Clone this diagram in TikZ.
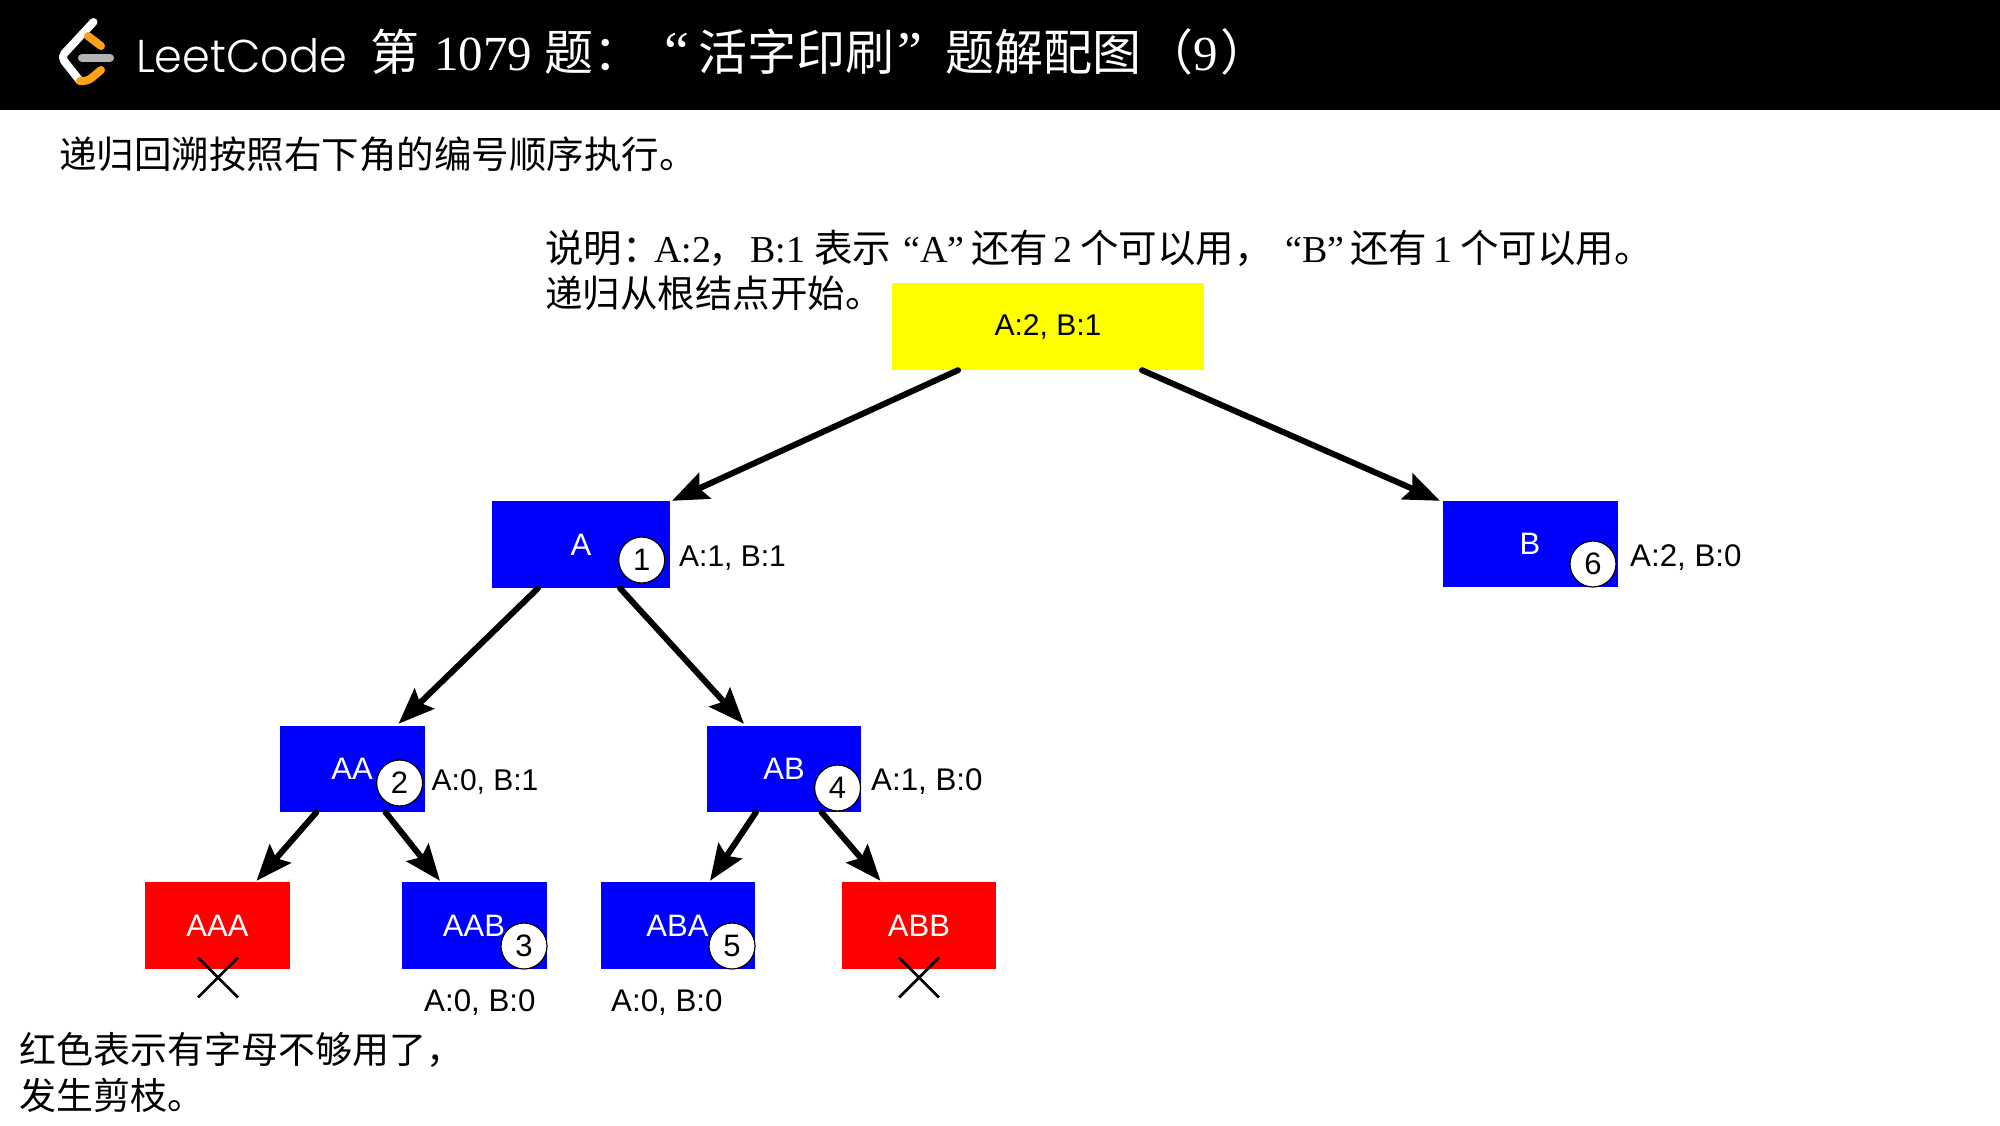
\documentclass[tikz,border=0pt]{standalone}
\usepackage{fontspec}
\usetikzlibrary{arrows.meta,shapes.misc}
\setmainfont{Liberation Serif}
\newfontfamily\cjkf{Noto Sans CJK SC}
\newfontfamily\helv{Liberation Sans}
\newfontfamily\lcfont[UprightFont={* Light},FakeStretch=0.97]{Poppins}
\definecolor{yel}{RGB}{255,255,0}
\definecolor{lcorange}{RGB}{255,161,22}
\definecolor{lcgrey}{RGB}{179,179,179}
\newcommand{\cj}[1]{{\cjkf #1}}
\newcommand{\cjb}[1]{{\cjkf\fontsize{38.5}{38.5}\selectfont #1}}
\newcommand{\cjt}[1]{{\cjkf\fontsize{49}{49}\selectfont #1}}
\newcommand{\qt}[1]{{\fontsize{56}{56}\selectfont #1}}
\newcommand{\putrun}[2]{\makebox[0pt][l]{\hspace*{#1pt}#2}}
\tikzset{
  x=1pt,y=-1pt,
  box/.style={rectangle,inner sep=0pt,text=white,font=\helv\fontsize{31}{31}\selectfont,anchor=center},
  bluebox/.style={box,fill=blue},
  redbox/.style={box,fill=red},
  num/.style={circle,draw=black,fill=white,line width=1.2pt,minimum size=46pt,inner sep=0pt,font=\helv\fontsize{31}{31}\selectfont},
  cnt/.style={anchor=base west,inner sep=0pt,font=\helv\fontsize{30}{30}\selectfont},
  cntw/.style={anchor=base west,inner sep=0pt,font=\helv\fontsize{31.3}{31.3}\selectfont},
  note/.style={anchor=base west,inner sep=0pt,font=\fontsize{37.5}{37.5}\selectfont},
  noteb/.style={anchor=base west,inner sep=0pt,font=\fontsize{38}{38}\selectfont},
  title/.style={anchor=base west,inner sep=0pt,text=white,font=\fontsize{49}{49}\selectfont},
  link/.style={draw=black,line width=6pt,line cap=round,-{Stealth[length=36pt,width=28pt,inset=6pt]}},
  xmark/.style={cross out,draw=black,line width=2.8pt,minimum width=37pt,minimum height=37pt,inner sep=0pt},
}
\begin{document}
\begin{tikzpicture}
\useasboundingbox (0,0) rectangle (2000,1125);
\fill[white] (0,0) rectangle (2000,1125);
\fill[black] (0,0) rectangle (2000,110);
% logo
\draw[line width=8pt,line cap=round,line join=round,draw=white,rounded corners=5pt] (93.5,22) -- (61,57) -- (80,81);
\draw[line width=8pt,line cap=round,draw=lcorange,rounded corners=4pt] (88,36) -- (101,46);
\draw[line width=8pt,line cap=round,draw=lcorange,rounded corners=5pt] (101,70) -- (88,81) -- (80,81);
\draw[line width=8pt,line cap=round,draw=lcgrey] (82,58) -- (110,58);
\node[anchor=base west,inner sep=0pt,text=white,font=\lcfont\fontsize{46}{46}\selectfont] (lc) at (136,72) {LeetCode};
\node[title] (ttl) at (370,70) {\makebox[240pt][l]{\putrun{0}{\cjt{第}}\putrun{64}{1079}\putrun{174}{\cjt{题：}}}};
\node[title] (ttl2) at (664,70) {\makebox[580pt][l]{\putrun{0}{\qt{“}}\putrun{34}{\cjt{活字印刷}}\putrun{233}{\qt{”}}\putrun{281}{\cjt{题解配图}}\putrun{480}{\cjt{（}}\putrun{529}{9}\putrun{556}{\cjt{）}}}};
% notes
\node[note] (intro) at (59,168) {\cj{递归回溯按照右下角的编号顺序执行。}};
\node[noteb] (ex1) at (545,262) {\makebox[1090pt][l]{\putrun{0}{\cjb{说明：}}\putrun{109}{A:2}\putrun{163}{\cjb{，}}\putrun{205}{B:1}\putrun{269}{\cjb{表示}}\putrun{358}{“A”}\putrun{426}{\cjb{还有}}\putrun{508}{2}\putrun{535}{\cjb{个可以用，}}\putrun{740}{“B”}\putrun{805}{\cjb{还有}}\putrun{888}{1}\putrun{915}{\cjb{个可以用。}}}};
\node[note] (ex2) at (545,307) {\cj{递归从根结点开始。}};
\node[note,font=\fontsize{37}{37}\selectfont] (red1) at (19,1063) {\cj{红色表示有字母不够用了，}};
\node[note,font=\fontsize{37}{37}\selectfont] (red2) at (19,1109) {\cj{发生剪枝。}};
% boxes
\node[box,fill=yel,text=black,minimum width=312pt,minimum height=87pt,font=\helv\fontsize{30}{30}\selectfont] (root) at (1048,326.5) {A:2, B:1};
\node[bluebox,minimum width=177.5pt,minimum height=87pt] (na) at (581,544.5) {A};
\node[bluebox,minimum width=175pt,minimum height=86pt] (nb) at (1530,544) {B};
\node[bluebox,minimum width=145pt,minimum height=86pt] (naa) at (352,769) {AA};
\node[bluebox,minimum width=154pt,minimum height=86pt] (nab) at (784,769) {AB};
\node[redbox,minimum width=145pt,minimum height=87pt] (naaa) at (217.5,925.5) {AAA};
\node[bluebox,minimum width=145pt,minimum height=87pt] (naab) at (474,925.5) {AAB};
\node[bluebox,minimum width=154pt,minimum height=87pt] (naba) at (677.5,925.5) {ABA};
\node[redbox,minimum width=154.5pt,minimum height=87pt] (nabb) at (919,925.5) {ABB};
% links
\draw[link] ([xshift=-90pt]root.south) -- ([xshift=91pt]na.north);
\draw[link] ([xshift=94pt]root.south) -- ([xshift=-90pt]nb.north);
\draw[link] ([xshift=-43pt]na.south) -- ([xshift=46.5pt,yshift=2pt]naa.north);
\draw[link] ([xshift=39pt]na.south) -- ([xshift=-40pt,yshift=2pt]nab.north);
\draw[link] ([xshift=-35.5pt]naa.south) -- ([xshift=39pt,yshift=1pt]naaa.north);
\draw[link] ([xshift=33.5pt]naa.south) -- ([xshift=-34pt,yshift=1pt]naab.north);
\draw[link] ([xshift=-28pt]nab.south) -- ([xshift=32.5pt,yshift=1pt]naba.north);
\draw[link] ([xshift=37.5pt]nab.south) -- ([xshift=-38.5pt,yshift=1pt]nabb.north);
% numbers
\node[num] (c1) at (641.7,560) {1};
\node[num] (c2) at (399.6,783) {2};
\node[num] (c3) at (524,946) {3};
\node[num] (c4) at (837.6,788) {4};
\node[num] (c5) at (732,946) {5};
\node[num] (c6) at (1593,564) {6};
% counts
\node[cnt] (l1) at (679,566) {A:1, B:1};
\node[cntw] (l6) at (1630,566) {A:2, B:0};
\node[cnt] (l2) at (431.5,790) {A:0, B:1};
\node[cntw] (l4) at (871,790) {A:1, B:0};
\node[cntw] (l3) at (424,1011) {A:0, B:0};
\node[cntw] (l5) at (611,1011) {A:0, B:0};
% crosses
\node[xmark] (x1) at (218,977.5) {};
\node[xmark] (x2) at (919,977.5) {};
\end{tikzpicture}
\end{document}
